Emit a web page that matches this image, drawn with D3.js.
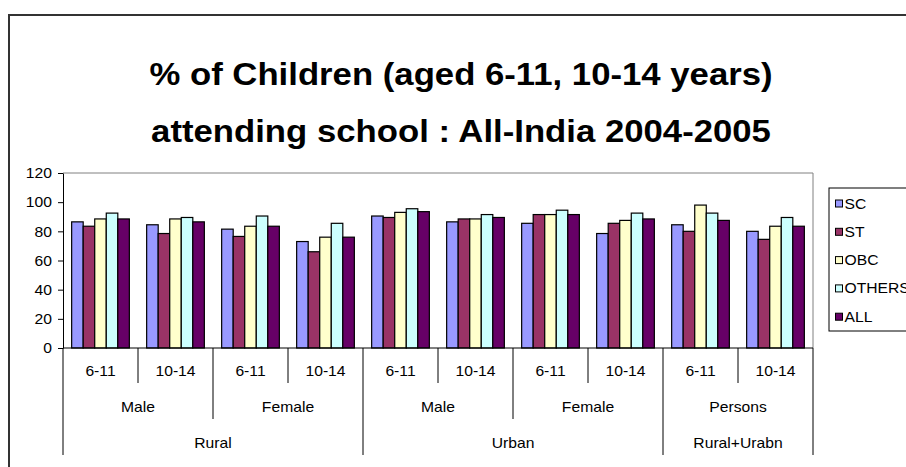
<!DOCTYPE html>
<html>
<head>
<meta charset="utf-8">
<script src="https://cdn.jsdelivr.net/npm/d3@7"></script>
<style>
  html, body { margin: 0; padding: 0; background: #fff; }
  svg { display: block; }
  text { font-family: "Liberation Sans", Arial, Helvetica, sans-serif; fill: #000; }
</style>
</head>
<body>
<svg id="chart" width="906" height="467"></svg>
<script>
// Age-band categories, grouped by sex and then by area
const ageBands = ["6-11", "10-14", "6-11", "10-14", "6-11", "10-14", "6-11", "10-14", "6-11", "10-14"];
const sexGroups = [
  { label: "Male", from: 0, to: 2 },
  { label: "Female", from: 2, to: 4 },
  { label: "Male", from: 4, to: 6 },
  { label: "Female", from: 6, to: 8 },
  { label: "Persons", from: 8, to: 10 }
];
const areaGroups = [
  { label: "Rural", from: 0, to: 4 },
  { label: "Urban", from: 4, to: 8 },
  { label: "Rural+Urabn", from: 8, to: 10 }
];

// % attending school, by social group
const seriesNames = ["SC", "ST", "OBC", "OTHERS", "ALL"];
const SC     = [86.5, 84.5, 81.5, 73.0, 90.5, 86.5, 85.5, 78.5, 84.5, 80.0];
const ST     = [83.5, 78.5, 76.5, 66.0, 89.5, 88.5, 91.5, 85.5, 80.0, 74.5];
const OBC    = [88.5, 88.5, 83.5, 76.0, 93.0, 88.5, 91.5, 87.5, 98.0, 83.5];
const OTHERS = [92.5, 89.5, 90.5, 85.5, 95.5, 91.5, 94.5, 92.5, 92.5, 89.5];
const ALL    = [88.5, 86.5, 83.5, 76.0, 93.5, 89.5, 91.5, 88.5, 87.5, 83.5];
const seriesValues = [SC, ST, OBC, OTHERS, ALL];
const seriesColors = ["#9999FF", "#993366", "#FFFFCC", "#CCFFFF", "#660066"];

const yTicks = [0, 20, 40, 60, 80, 100, 120];
const titleLines = ["% of Children (aged 6-11, 10-14 years)", "attending school : All-India 2004-2005"];

// Text in this chart is set slightly wide
const textStretch = 1.12;
const titleStretch = 1.12;

// Places a text element at (x, y) with a horizontal stretch about its anchor
function placeText(sel, x, y, s) {
  sel.attr("x", 0).attr("y", 0)
    .attr("transform", (d, i) => {
      const px = typeof x === "function" ? x(d, i) : x;
      const py = typeof y === "function" ? y(d, i) : y;
      return `translate(${px},${py}) scale(${s},1)`;
    });
  return sel;
}

const svg = d3.select("#chart");

// Outer chart frame
svg.append("path")
  .attr("d", "M9,467 V15 H906")
  .attr("fill", "none")
  .attr("stroke", "#333")
  .attr("stroke-width", 2);

// Title
svg.append("g").selectAll("text")
  .data(titleLines)
  .join("text")
  .attr("text-anchor", "middle")
  .style("font-weight", "bold")
  .style("font-size", "31px")
  .text(d => d)
  .call(placeText, 461, (d, i) => 85 + i * 57, titleStretch);

// Plot area
const plot = { left: 63, right: 813, top: 173, bottom: 348 };

const y = d3.scaleLinear().domain([0, 120]).range([plot.bottom, plot.top]);
const x = d3.scaleBand()
  .domain(d3.range(ageBands.length))
  .range([plot.left, plot.right])
  .paddingInner(0.2307)
  .paddingOuter(0.11535);
const xs = d3.scaleBand().domain(seriesNames).range([0, x.bandwidth()]).padding(0);

// Plot area border (top and right)
svg.append("path")
  .attr("d", `M${plot.left},${plot.top} H${plot.right} V${plot.bottom}`)
  .attr("fill", "none")
  .attr("stroke", "#808080")
  .attr("stroke-width", 1);

// Bars
const groups = svg.append("g").selectAll("g")
  .data(d3.range(ageBands.length))
  .join("g")
  .attr("transform", i => `translate(${x(i)},0)`);

groups.selectAll("rect")
  .data(i => seriesNames.map((s, k) => ({ s, k, v: seriesValues[k][i] })))
  .join("rect")
  .attr("x", d => xs(d.s))
  .attr("y", d => y(d.v))
  .attr("width", xs.bandwidth())
  .attr("height", d => y(0) - y(d.v))
  .attr("fill", d => seriesColors[d.k])
  .attr("stroke", "#000")
  .attr("stroke-width", 1.2);

// Value axis
const yAxis = svg.append("g")
  .attr("transform", `translate(${plot.left},0)`)
  .call(d3.axisLeft(y).tickValues(yTicks).tickSize(5).tickSizeOuter(0).tickPadding(6));
yAxis.selectAll("line, path").attr("stroke", "#000");
yAxis.selectAll("text")
  .style("font-size", "14px")
  .attr("fill", "#000")
  .attr("dy", "0.34em")
  .call(placeText, -11, 0, textStretch);

// Category axis line
svg.append("line")
  .attr("x1", plot.left).attr("x2", plot.right)
  .attr("y1", plot.bottom).attr("y2", plot.bottom)
  .attr("stroke", "#000");

// Multi-level category separators
const step = x.step();
const boundaryX = i => plot.left + i * step;
const level = { l1: 383, l2: 419, l3: 455 };
const sepDepth = i => {
  if (areaGroups.some(g => g.from === i || g.to === i)) return level.l3;
  if (sexGroups.some(g => g.from === i || g.to === i)) return level.l2;
  return level.l1;
};
svg.append("g").selectAll("line")
  .data(d3.range(ageBands.length + 1))
  .join("line")
  .attr("x1", i => boundaryX(i)).attr("x2", i => boundaryX(i))
  .attr("y1", plot.bottom).attr("y2", i => sepDepth(i))
  .attr("stroke", "#000");

// Category labels
const labelSize = "14px";
svg.append("g").selectAll("text")
  .data(ageBands)
  .join("text")
  .attr("dy", "0.35em")
  .attr("text-anchor", "middle")
  .style("font-size", labelSize)
  .text(d => d)
  .call(placeText, (d, i) => boundaryX(i) + step / 2, 371, textStretch);

svg.append("g").selectAll("text")
  .data(sexGroups)
  .join("text")
  .attr("dy", "0.35em")
  .attr("text-anchor", "middle")
  .style("font-size", labelSize)
  .text(d => d.label)
  .call(placeText, d => (boundaryX(d.from) + boundaryX(d.to)) / 2, 407, textStretch);

svg.append("g").selectAll("text")
  .data(areaGroups)
  .join("text")
  .attr("dy", "0.35em")
  .attr("text-anchor", "middle")
  .style("font-size", labelSize)
  .text(d => d.label)
  .call(placeText, d => (boundaryX(d.from) + boundaryX(d.to)) / 2, 443, textStretch);

// Legend (its right side runs past the chart edge)
const legend = svg.append("g").attr("transform", "translate(829,188)");
legend.append("rect")
  .attr("x", 0).attr("y", 0)
  .attr("width", 100).attr("height", 143)
  .attr("fill", "#fff")
  .attr("stroke", "#000")
  .attr("stroke-width", 1);
const items = legend.selectAll("g.item")
  .data(seriesNames)
  .join("g")
  .attr("class", "item")
  .attr("transform", (d, i) => `translate(0,${15.5 + i * 28.3})`);
items.append("rect")
  .attr("x", 6.5).attr("y", -3.5)
  .attr("width", 7).attr("height", 7)
  .attr("fill", (d, i) => seriesColors[i])
  .attr("stroke", "#000")
  .attr("stroke-width", 1);
items.append("text")
  .attr("dy", "0.36em")
  .style("font-size", "14px")
  .text(d => d)
  .call(placeText, 15.5, 0, textStretch);
</script>
</body>
</html>
